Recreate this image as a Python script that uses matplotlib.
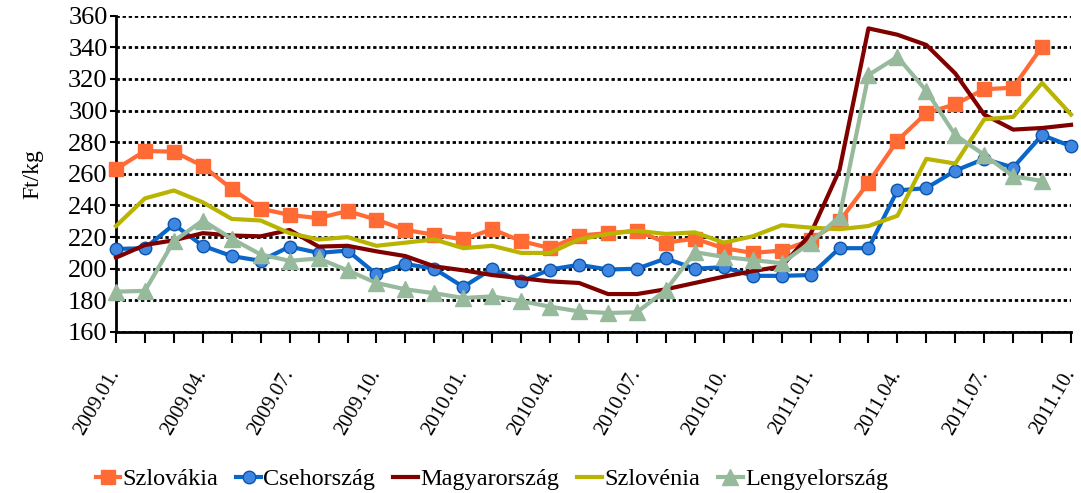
import matplotlib
matplotlib.use("Agg")
import matplotlib.pyplot as plt
import numpy as np

plt.rcParams['font.family'] = ['Liberation Serif', 'DejaVu Serif']

# monthly data, 2009.01 - 2011.10 (Ft/kg)
months = ['%d.%02d.' % (y, m) for y in (2009, 2010, 2011) for m in range(1, 13)][:34]

szlovakia = [263, 274.5, 274, 265, 250.5, 238, 234, 232, 236.5, 231, 224.5,
             221.5, 218.5, 225, 217.5, 213, 221, 222.5, 224, 216.5, 219, 213,
             210, 211.5, 218, 230, 254.5, 281, 298.5, 304, 313.5, 314.5, 340.5]
csehorszag = [212.5, 213, 228, 214.5, 208, 205, 214, 210, 211.5, 196.5, 203,
              200, 188.5, 200, 192, 199.5, 202.5, 199.5, 200, 206.5, 200, 201,
              195.5, 195.5, 196, 213, 213, 249.5, 251, 262, 269.5, 264, 284.5, 277.5]
magyarorszag = [207, 215, 218, 222.5, 221, 220.5, 224.5, 214, 214.5, 211, 208,
                201.5, 199, 196, 194, 192, 191, 184, 184, 187, 191, 195,
                198.5, 201.5, 222, 262.5, 352, 348, 341.5, 323.5, 297.5, 288, 289, 291]
szlovenia = [227, 244.5, 249.5, 242, 231.5, 230.5, 222.5, 218.5, 220, 214.5, 216.5,
             218.5, 213, 214.5, 210, 210, 218.5, 222, 224, 222, 223, 216.5,
             220.5, 227.5, 226, 225, 227, 233.5, 269.5, 266.5, 294.5, 296, 317.5, 297.5]
lengyelorszag = [185.5, 186, 217.5, 230.5, 219, 209, 205, 206.5, 199, 191, 187,
                 184.5, 181.5, 182.5, 179.5, 176, 173, 172, 172.5, 186.5, 210.5, 207.5,
                 205.5, 203.5, 216.5, 233, 322.5, 334, 312.5, 284.5, 272, 258.5, 255.5]

series = [
    ('Szlovákia', szlovakia, '#FF6A35', 's', 10, '#FF6A35', '#FF6A35'),
    ('Csehország', csehorszag, '#0A66C8', 'o', 9, '#3F86E0', '#0A55B0'),
    ('Magyarország', magyarorszag, '#800000', None, 0, None, None),
    ('Szlovénia', szlovenia, '#B8B400', None, 0, None, None),
    ('Lengyelország', lengyelorszag, '#97BA9C', '^', 11, '#97BA9C', '#97BA9C'),
]

fig = plt.figure(figsize=(10.81, 4.93), dpi=100)
ax = fig.add_axes([0.1073, 0.3266, 0.8835, 0.6415])

for name, vals, col, mk, ms, mfc, mec in series:
    x = np.arange(len(vals))
    ax.plot(x, vals, color=col, lw=3, marker=mk, ms=ms, mfc=mfc, mec=mec,
            label=name, zorder=3, clip_on=False)

ax.set_xlim(0, 33)
ax.set_ylim(160, 360)
ax.set_yticks(np.arange(160, 361, 20))
ax.yaxis.grid(True, color='black', lw=2, linestyle=(0, (1.2, 1)))
ax.set_axisbelow(True)

ax.set_xticks(np.arange(34))
ax.set_xticklabels([m if i % 3 == 0 else '' for i, m in enumerate(months)],
                   rotation=60, ha='right', va='center', rotation_mode='anchor')
ax.tick_params(axis='x', length=8, width=1.5, pad=20, labelsize=15)
ax.tick_params(axis='y', length=4, width=1.5, labelsize=19, pad=2)

for s in ('top', 'right'):
    ax.spines[s].set_visible(False)
for s in ('left', 'bottom'):
    ax.spines[s].set_linewidth(2)

ax.set_ylabel('Ft/kg', fontsize=17, labelpad=18)

fig.legend(loc='center', bbox_to_anchor=(0.455, 0.028), ncol=5, frameon=False,
           fontsize=17.5, handlelength=1.0, handletextpad=0.1, columnspacing=0.75,
           markerscale=1.0)

fig.savefig('out.png', dpi=100)
